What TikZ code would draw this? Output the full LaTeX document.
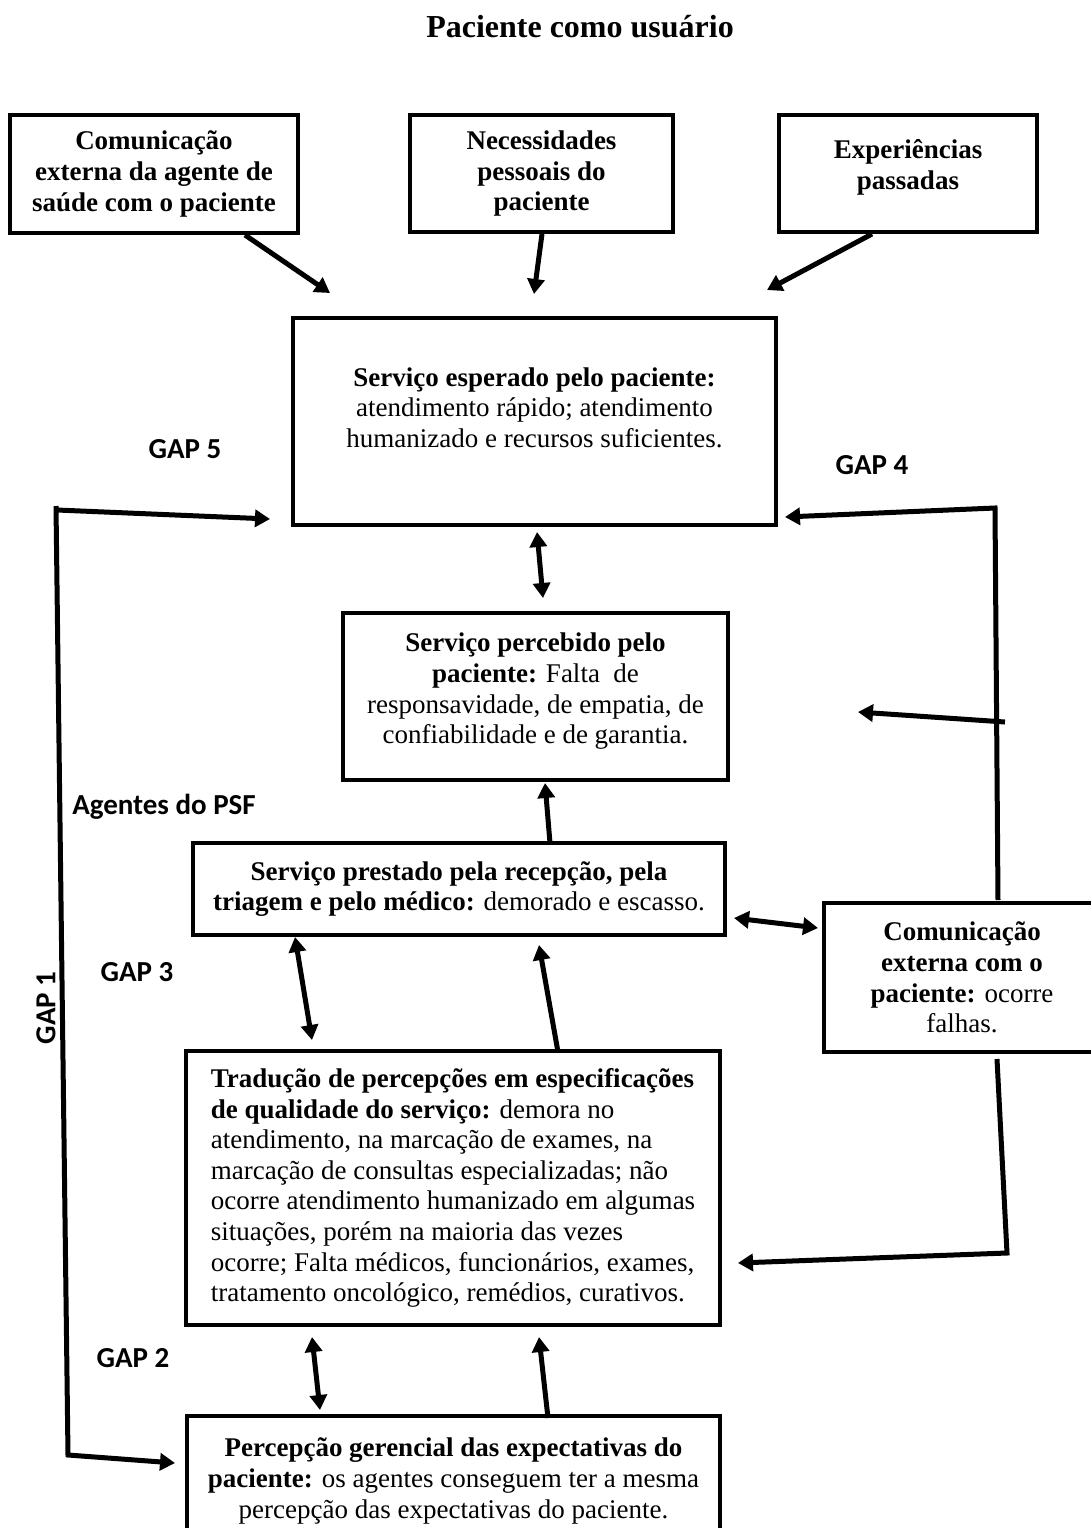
\documentclass[tikz,border=0pt]{standalone}
\usepackage{fontspec}
\setmainfont{Liberation Serif}
\newfontfamily\gapfont{Carlito}
\usetikzlibrary{arrows.meta}
\begin{document}
\begin{tikzpicture}[x=0.5pt,y=-0.5pt,
  box/.style={draw, line width=2.2pt, inner sep=0pt, align=center, font=\fontsize{13.5}{15.3}\selectfont},
  arr/.style={line width=2.5pt, -{Triangle[length=7.5pt,width=8.5pt]}},
  dbl/.style={line width=2.5pt, {Triangle[length=7.5pt,width=8.5pt]}-{Triangle[length=7.5pt,width=8.5pt]}},
  gap/.style={font=\gapfont\bfseries\fontsize{14.5}{16}\selectfont, inner sep=0pt},
  plainline/.style={line width=2.5pt}
]
\useasboundingbox (0,0) rectangle (1091,1528);
\clip (0,0) rectangle (1091,1528);

% title
\node[font=\bfseries\fontsize{16}{19}\selectfont, inner sep=0pt] (title) at (580,27) {Paciente como usuário};

% boxes
\node[box, minimum width=144pt, minimum height=59pt] (ce) at (154,174)
  {\bfseries Comunicação\\\bfseries externa da agente de\\\bfseries saúde com o paciente};
\node[box, minimum width=131.5pt, minimum height=58.5pt] (np) at (541.5,173.5)
  {\bfseries Necessidades\\\bfseries pessoais do\\\bfseries paciente};
\node[box, minimum width=129pt, minimum height=58.5pt] (ep) at (908,173.5)
  {\bfseries Experiências\\\bfseries passadas\rule[-9pt]{0pt}{0pt}};
\node[box, minimum width=241.5pt, minimum height=103.5pt] (se) at (534.5,421.5)
  {\textbf{Serviço esperado pelo paciente:}\\atendimento rápido; atendimento\\humanizado e recursos suficientes.\rule[-14pt]{0pt}{0pt}};
\node[box, minimum width=192.5pt, minimum height=83.5pt] (sp) at (535.5,696.5)
  {\textbf{Serviço percebido pelo}\\\textbf{paciente:} Falta \ de\\responsavidade, de empatia, de\\confiabilidade e de garantia.\rule[-8pt]{0pt}{0pt}};
\node[box, minimum width=266pt, minimum height=46pt] (spr) at (459,889)
  {\textbf{Serviço prestado pela recepção, pela}\\\textbf{triagem e pelo médico:} demorado e escasso.};
\node[box, minimum width=138pt, minimum height=74.5pt] (cx) at (962,977.5)
  {\textbf{Comunicação}\\\textbf{externa com o}\\\textbf{paciente:} ocorre\\falhas.};
\node[box, minimum width=267pt, minimum height=137pt, align=left] (tr) at (453,1188)
  {\textbf{Tradução de percepções em especificações}\\
   \textbf{de qualidade do serviço:} demora no\\
   atendimento, na marcação de exames, na\\
   marcação de consultas especializadas; não\\
   ocorre atendimento humanizado em algumas\\
   situações, porém na maioria das vezes\\
   ocorre; Falta médicos, funcionários, exames,\\
   tratamento oncológico, remédios, curativos.};
\node[box, minimum width=266.5pt, minimum height=65pt] (pg) at (453.5,1481)
  {\textbf{Percepção gerencial das expectativas do}\\\textbf{paciente:} os agentes conseguem ter a mesma\\percepção das expectativas do paciente.};

% labels
\node[gap] (g5) at (185,449) {GAP 5};
\node[gap] (g4) at (872,465) {GAP 4};
\node[gap] (ag) at (164,807) {Agentes do PSF};
\node[gap] (g3) at (137,972) {GAP 3};
\node[gap, rotate=90] (g1) at (46,1008) {GAP 1};
\node[gap] (g2) at (133,1358) {GAP 2};

% connector coordinates
\coordinate (a1s) at (245,235); \coordinate (a1e) at (330,293);
\coordinate (a2s) at (542,234); \coordinate (a2e) at (534,294);
\coordinate (a3s) at (872,234); \coordinate (a3e) at (767,290);
\coordinate (a4s) at (537,532); \coordinate (a4e) at (543,598);
\coordinate (a5s) at (550,843); \coordinate (a5e) at (545,783);
\coordinate (a6s) at (734,918); \coordinate (a6e) at (818,928);
\coordinate (a7s) at (295,937); \coordinate (a7e) at (312,1040);
\coordinate (a8s) at (558,1052); \coordinate (a8e) at (539,945);
\coordinate (a9s) at (312,1337); \coordinate (a9e) at (320,1410);
\coordinate (a10s) at (548,1418); \coordinate (a10e) at (539,1337);

\draw[arr] (a1s) -- (a1e);
\draw[arr] (a2s) -- (a2e);
\draw[arr] (a3s) -- (a3e);
\draw[dbl] (a4s) -- (a4e);
\draw[arr] (a5s) -- (a5e);
\draw[dbl] (a6s) -- (a6e);
\draw[dbl] (a7s) -- (a7e);
\draw[arr] (a8s) -- (a8e);
\draw[dbl] (a9s) -- (a9e);
\draw[arr] (a10s) -- (a10e);

% GAP 1 / GAP 5 lines
\coordinate (l1top) at (56,506);
\coordinate (l1bot) at (68,1455);
\coordinate (l1tip) at (175,1463);
\coordinate (l5s) at (57,510);
\coordinate (l5tip) at (270,519);
\draw[arr] (l1top) -- (l1bot) -- (l1tip);
\draw[arr] (l5s) -- (l5tip);

% GAP 4 lines
\coordinate (r1bot) at (998,900);
\coordinate (r1top) at (995,508);
\coordinate (r1tip) at (785,517);
\draw[arr] (r1bot) -- (r1top) -- (r1tip);
\coordinate (r2s) at (1005,722);
\coordinate (r2tip) at (858,712);
\draw[arr] (r2s) -- (r2tip);
\coordinate (r3top) at (997,1059);
\coordinate (r3bot) at (1007,1253);
\coordinate (r3tip) at (738,1263);
\draw[arr] (r3top) -- (r3bot) -- (r3tip);
\end{tikzpicture}
\end{document}
